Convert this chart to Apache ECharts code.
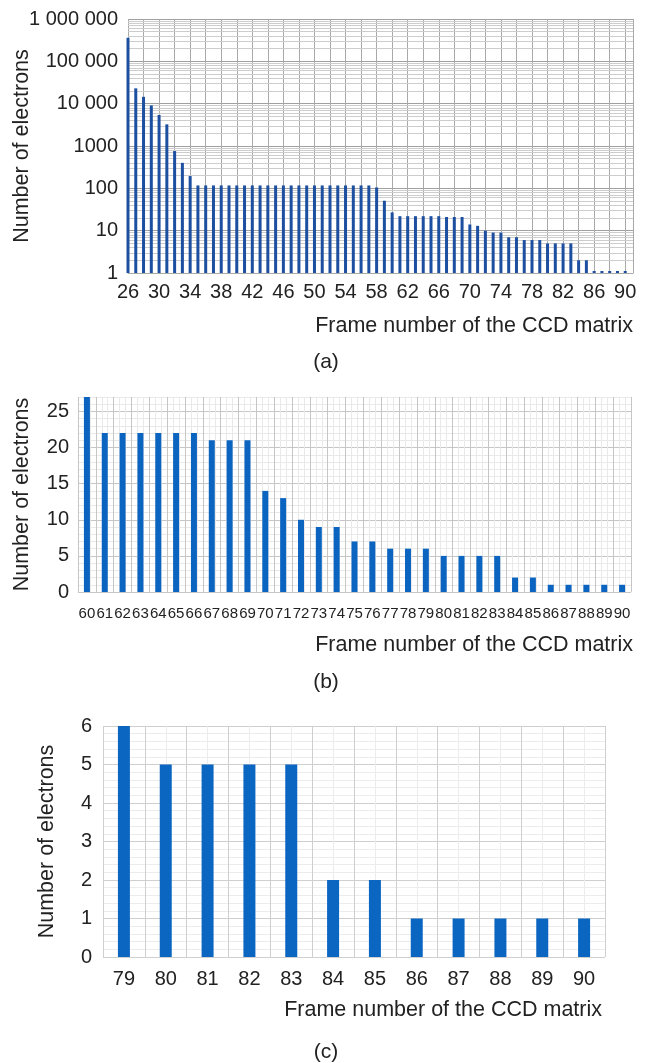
<!DOCTYPE html>
<html><head><meta charset="utf-8">
<script src="https://cdn.jsdelivr.net/npm/echarts@6/dist/echarts.min.js"></script>
<style>html,body{margin:0;padding:0;background:#fff}#c{width:654px;height:1063px}</style>
</head><body><div id="c"></div>
<script>
// ---- data ----
const framesA = [26,27,28,29,30,31,32,33,34,35,36,37,38,39,40,41,42,43,44,45,46,47,48,49,50,51,52,53,54,55,56,57,58,59,60,61,62,63,64,65,66,67,68,69,70,71,72,73,74,75,76,77,78,79,80,81,82,83,84,85,86,87,88,89,90];
const valuesA = [360000,23000,14500,9100,5400,3250,760,400,195,
  117,117,117,117,117,117,117,117,117,117,117,117,117,117,117,117,117,117,117,117,117,117,117,
  105,51,
  27,22,22,22,22,22,22,21,21,21,14,13,10,9,9,7,7,6,6,6,5,5,5,5,2,2,1,1,1,1,1];
const framesB = ['60','61','62','63','64','65','66','67','68','69','70','71','72','73','74','75','76','77','78','79','80','81','82','83','84','85','86','87','88','89','90'];
const valuesB = [27,22,22,22,22,22,22,21,21,21,14,13,10,9,9,7,7,6,6,6,5,5,5,5,2,2,1,1,1,1,1];
const framesC = ['79','80','81','82','83','84','85','86','87','88','89','90'];
const valuesC = [6,5,5,5,5,2,2,1,1,1,1,1];
const yLabelsA = ['1','10','100','1000','10 000','100 000','1 000 000'];
const xTitle = 'Frame number of the CCD matrix';
const yTitle = 'Number of electrons';

// minor log grid positions (2..9 within each decade)
const logMinor = [];
for (let d = 1; d < 1000000; d *= 10) for (let k = 2; k <= 9; k++) logMinor.push(k * d);

const FONT = "'Liberation Sans', Arial, sans-serif";
const TXT = '#222';
const chart = echarts.init(document.getElementById('c'), null, {renderer: 'canvas'});

const nameStyle = (pad) => ({fontFamily: FONT, fontSize: 21.5, color: TXT, align: 'right', verticalAlign: 'top', padding: [pad, 0, 0, 0]});
const yNameStyle = {fontFamily: FONT, fontSize: 21.5, color: TXT};
const hiddenValueAxis = (grid, max, colors) => ({
  type: 'value', gridIndex: grid, min: 0, max: max, interval: 1, position: 'top',
  axisLabel: {show: false}, axisLine: {show: false}, axisTick: {show: false},
  splitLine: {show: true, lineStyle: {color: colors, width: 1}}
});

chart.setOption({
  animation: false,
  grid: [
    {left: 128, top: 19, width: 505, height: 254, outerBoundsMode: 'none', containLabel: false},
    {left: 78, top: 397, width: 553, height: 195, outerBoundsMode: 'none', containLabel: false},
    {left: 103, top: 726, width: 502, height: 231, outerBoundsMode: 'none', containLabel: false}
  ],
  xAxis: [
    { type: 'value', gridIndex: 0, min: 26, max: 91, interval: 2,
      axisLine: {show: true, lineStyle: {color: '#aaa'}}, axisTick: {show: false},
      axisLabel: {fontFamily: FONT, fontSize: 20, color: TXT, margin: 9,
        formatter: v => ((v - 26) % 4 === 0 && v <= 90) ? String(v) : ''},
      splitLine: {show: true, lineStyle: {color: '#a9a9a9', width: 1}},
      name: xTitle, nameLocation: 'end', nameGap: 0, nameMoveOverlap: false, nameTextStyle: nameStyle(42) },
    { type: 'category', gridIndex: 1, data: framesB, boundaryGap: true,
      axisLine: {show: false}, axisTick: {show: false},
      axisLabel: {interval: 0, fontFamily: FONT, fontSize: 15, color: TXT, margin: 14},
      splitLine: {show: false},
      name: xTitle, nameLocation: 'end', nameGap: 2, nameMoveOverlap: false, nameTextStyle: nameStyle(42) },
    hiddenValueAxis(1, 93, ['#c6c6c6', '#e9e9e9', '#e9e9e9']),
    { type: 'category', gridIndex: 2, data: framesC, boundaryGap: true,
      axisLine: {show: false}, axisTick: {show: false},
      axisLabel: {interval: 0, fontFamily: FONT, fontSize: 20, color: TXT, margin: 12},
      splitLine: {show: false},
      name: xTitle, nameLocation: 'end', nameGap: -3, nameMoveOverlap: false, nameTextStyle: nameStyle(42) },
    hiddenValueAxis(2, 24, ['#cfcfcf', '#ececec'])
  ],
  yAxis: [
    { type: 'log', logBase: 10, gridIndex: 0, min: 1, max: 1000000, splitNumber: 6,
      axisLine: {show: false}, axisTick: {show: false},
      axisLabel: {fontFamily: FONT, fontSize: 20, color: TXT, margin: 10,
        formatter: v => yLabelsA[Math.round(Math.log10(v))] || ''},
      splitLine: {show: true, lineStyle: {color: '#a0a0a0', width: 1}},
      name: yTitle, nameLocation: 'middle', nameGap: 95, nameMoveOverlap: false, nameTextStyle: yNameStyle },
    { type: 'value', gridIndex: 1, min: 0, max: 27, interval: 1,
      axisLine: {show: false}, axisTick: {show: false},
      axisLabel: {fontFamily: FONT, fontSize: 20, color: TXT, margin: 9,
        formatter: v => (v % 5 === 0) ? String(v) : ''},
      splitLine: {show: true, lineStyle: {color: ['#c6c6c6', '#e9e9e9', '#e9e9e9', '#e9e9e9', '#e9e9e9'], width: 1}},
      name: yTitle, nameLocation: 'middle', nameGap: 45, nameMoveOverlap: false, nameTextStyle: yNameStyle },
    { type: 'value', gridIndex: 2, min: 0, max: 6, interval: 0.2,
      axisLine: {show: false}, axisTick: {show: false},
      axisLabel: {fontFamily: FONT, fontSize: 20, color: TXT, margin: 11,
        formatter: v => (Math.abs(v - Math.round(v)) < 1e-6) ? String(Math.round(v)) : ''},
      splitLine: {show: true, lineStyle: {color: ['#cfcfcf', '#ececec', '#ececec', '#ececec', '#ececec'], width: 1}},
      name: yTitle, nameLocation: 'middle', nameGap: 45, nameMoveOverlap: false, nameTextStyle: yNameStyle }
  ],
  series: [
    { type: 'bar', xAxisIndex: 0, yAxisIndex: 0, z: 1, data: [], silent: true,
      markLine: {silent: true, z: 0, symbol: ['none', 'none'], label: {show: false},
        emphasis: {disabled: true},
        lineStyle: {color: '#cdcdcd', width: 1, type: 'solid'},
        data: logMinor.map(v => ({yAxis: v}))} },
    { type: 'bar', xAxisIndex: 0, yAxisIndex: 0, z: 10, barWidth: 3, barMinHeight: 2,
      itemStyle: {color: '#1c4fa0'},
      data: framesA.map((f, i) => [f, valuesA[i]]) },
    { type: 'bar', xAxisIndex: 1, yAxisIndex: 1, z: 10, barWidth: 6,
      itemStyle: {color: '#0b64c0'}, data: valuesB },
    { type: 'bar', xAxisIndex: 3, yAxisIndex: 2, z: 10, barWidth: 12,
      itemStyle: {color: '#0b66c2'}, data: valuesC }
  ],
  graphic: [
    {type: 'text', x: 326, y: 362, style: {text: '(a)', font: '21px ' + FONT, fill: TXT, textAlign: 'center', textVerticalAlign: 'middle'}},
    {type: 'text', x: 326, y: 682, style: {text: '(b)', font: '21px ' + FONT, fill: TXT, textAlign: 'center', textVerticalAlign: 'middle'}},
    {type: 'text', x: 326, y: 1052, style: {text: '(c)', font: '21px ' + FONT, fill: TXT, textAlign: 'center', textVerticalAlign: 'middle'}}
  ]
});
</script></body></html>
